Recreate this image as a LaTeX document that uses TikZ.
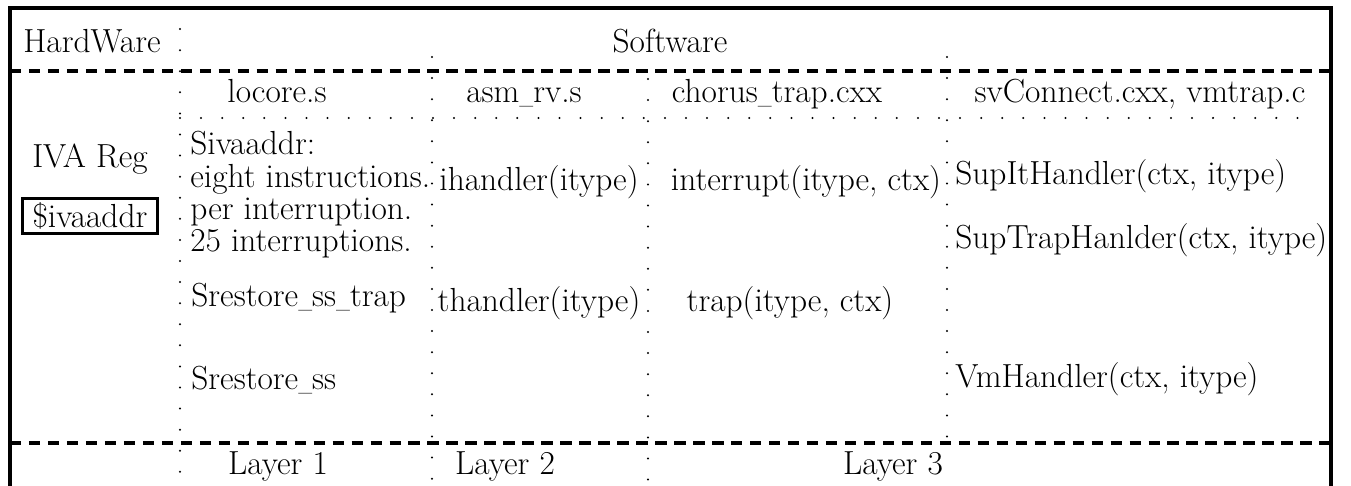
\documentclass[tikz,border=0pt]{standalone}
\usepackage{graphicx}
\newcommand\usc{\scalebox{0.6}[1]{\_}}
\begin{document}
\begin{tikzpicture}[x=0.02cm,y=-0.02cm,
  frame/.style={line width=1.8pt},
  dashsep/.style={line width=1.8pt, dash pattern=on 6.5pt off 4.3pt},
  dotsep/.style={line width=1.3pt, line cap=round, dash pattern=on 0pt off 12pt},
  lbl/.style={inner sep=0pt, text height=0.72em, text depth=0.22em, font=\fontsize{19}{23}\selectfont},
  lft/.style={lbl, anchor=west},
  regbox/.style={inner sep=0pt, font=\fontsize{19}{23}\selectfont, draw, line width=1.8pt, minimum width=2.7cm, minimum height=0.7cm}]
\useasboundingbox (0,0) rectangle (1351,486);
% frame coordinates
\coordinate (TL) at (10,8);
\coordinate (TR) at (1331,8);
\coordinate (BL) at (10,486);
\coordinate (BR) at (1331,486);
\coordinate (D1L) at (10,71);
\coordinate (D1R) at (1331,71);
\coordinate (D2L) at (10,443);
\coordinate (D2R) at (1331,443);
\coordinate (V1T) at (180,8);
\coordinate (V1B) at (180,486);
\coordinate (V2T) at (432,57);
\coordinate (V2B) at (432,486);
\coordinate (V3T) at (648,79);
\coordinate (V3B) at (648,486);
\coordinate (V4T) at (947,57);
\coordinate (V4B) at (947,440);
\coordinate (HL) at (180,118);
\coordinate (HR) at (1310,118);
% lines
\draw[frame] (BL) -- (TL) -- (TR) -- (BR);
\draw[dashsep] (D1L) -- (D1R);
\draw[dashsep] (D2L) -- (D2R);
\draw[dotsep] (V1T) -- (V1B);
\draw[dotsep] (V2T) -- (V2B);
\draw[dotsep] (V3T) -- (V3B);
\draw[dotsep] (V4T) -- (V4B);
\draw[dotsep] (HL) -- (HR);
% header
\node[lbl] (hw) at (92,48) {HardWare};
\node[lbl] (sw) at (670,48) {Software};
% file names
\node[lbl] (f1) at (277,98) {locore.s};
\node[lbl] (f2) at (524,98) {asm\usc rv.s};
\node[lbl] (f3) at (777,98) {chorus\usc trap.cxx};
\node[lbl] (f4) at (1140,98) {svConnect.cxx, vmtrap.c};
% hardware column
\node[lbl] (iva) at (90,163) {IVA Reg};
\node[regbox] (ivab) at (90,216) {\$ivaaddr};
% locore column
\node[lft] (l1) at (190,150) {Sivaaddr:};
\node[lft] (l2) at (190,183) {eight instructions.};
\node[lft] (l3) at (190,215) {per interruption.};
\node[lft] (l4) at (190,247) {25 interruptions.};
\node[lft] (l5) at (191,302) {Srestore\usc ss\usc trap};
\node[lft] (l6) at (191,385) {Srestore\usc ss};
% asm column
\node[lbl] (a1) at (539,186) {ihandler(itype)};
\node[lbl] (a2) at (539,307) {thandler(itype)};
% chorus column
\node[lbl] (c1) at (806,186) {interrupt(itype, ctx)};
\node[lbl] (c2) at (790,307) {trap(itype, ctx)};
% svConnect column
\node[lft] (s1) at (955,180) {SupItHandler(ctx, itype)};
\node[lft] (s2) at (955,244) {SupTrapHanlder(ctx, itype)};
\node[lft] (s3) at (955,383) {VmHandler(ctx, itype)};
% layers
\node[lbl] (ly1) at (278,470) {Layer 1};
\node[lbl] (ly2) at (505,470) {Layer 2};
\node[lbl] (ly3) at (893,470) {Layer 3};
\end{tikzpicture}
\end{document}
